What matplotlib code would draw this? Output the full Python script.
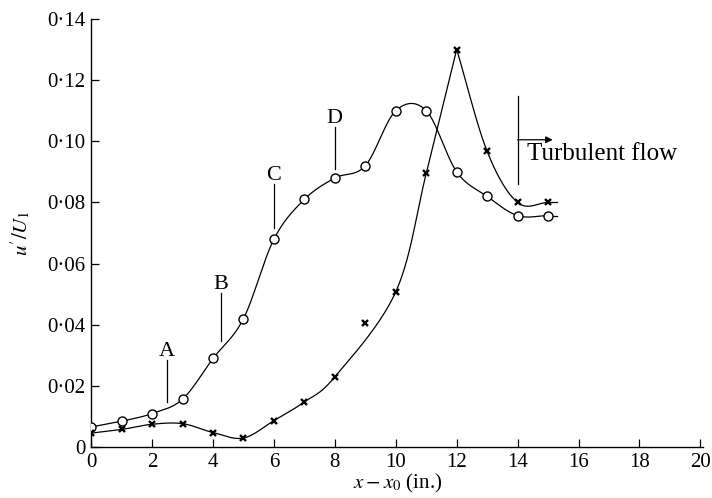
import matplotlib.pyplot as plt
import numpy as np

plt.rcParams['font.family'] = ['Liberation Serif', 'DejaVu Serif']
plt.rcParams['mathtext.fontset'] = 'stix'

## helpers
# catmull-rom curve through the points
def smooth(x, y, n=25):
    pts = np.column_stack([x, y])
    p = np.vstack([2*pts[0] - pts[1], pts, 2*pts[-1] - pts[-2]])
    out = []
    t = np.linspace(0, 1, n)[:, None]
    for i in range(1, len(p) - 2):
        p0, p1, p2, p3 = p[i-1], p[i], p[i+1], p[i+2]
        seg = 0.5*((2*p1) + (-p0 + p2)*t + (2*p0 - 5*p1 + 4*p2 - p3)*t**2
                   + (-p0 + 3*p1 - 3*p2 + p3)*t**3)
        out.append(seg)
    c = np.vstack(out)
    return c[:, 0], c[:, 1]

## data
x = np.arange(0, 16)
circ = np.array([0.0066, 0.0085, 0.011, 0.0157, 0.029, 0.042, 0.068, 0.081,
                 0.088, 0.092, 0.110, 0.110, 0.090, 0.082, 0.0757, 0.0757])
cross = np.array([0.0046, 0.0058, 0.0075, 0.0077, 0.0048, 0.003, 0.0087, 0.0148,
                  0.023, 0.0407, 0.0508, 0.0895, 0.130, 0.0967, 0.080, 0.080])

# labelled stations
stations = ['A', 'B', 'C', 'D']
st_x = [2.5, 4.25, 6.0, 8.0]
st_lo = [0.0148, 0.0347, 0.0718, 0.0908]
st_hi = [0.0285, 0.0505, 0.0859, 0.1046]

xticks = np.arange(0, 21, 2)
yticks = np.arange(0, 0.141, 0.02)
ylabels = ['0', '0·02', '0·04', '0·06', '0·08', '0·10', '0·12', '0·14']

## plot!
fig = plt.figure(figsize=(7.12, 4.98), dpi=100)
ax = fig.add_axes([0.128, 0.102, 0.86, 0.86])

cx, cy = smooth(x, circ)
ax.plot(cx, cy, color='black', lw=0.9)
ax.plot([x[-1], x[-1] + 0.3], [circ[-1]]*2, color='black', lw=0.9)
ax.plot(x, circ, 'o', mfc='white', mec='black', mew=1.0, ms=6.5, zorder=3)

# cusp at the peak -> two pieces; the curve is faired past the x=9 reading
k = 12
keep = [i for i in range(k + 1) if i != 9]
sx1, sy1 = smooth(x[keep], cross[keep])
sx2, sy2 = smooth(x[k:], cross[k:])
ax.plot(sx1, sy1, color='black', lw=0.9)
ax.plot(sx2, sy2, color='black', lw=0.9)
ax.plot([x[-1], x[-1] + 0.3], [cross[-1]]*2, color='black', lw=0.9)
ax.plot(x, cross, 'x', color='black', mew=1.7, ms=4.5, zorder=3)

for s, sx, lo, hi in zip(stations, st_x, st_lo, st_hi):
    ax.plot([sx, sx], [lo, hi], color='black', lw=0.9)
    ax.text(sx, hi + 0.0013, s, ha='center', va='baseline', fontsize=16)

# turbulent flow marker
ax.plot([14, 14], [0.0859, 0.1148], color='black', lw=0.9)
ax.annotate('', xy=(15.15, 0.1005), xytext=(14, 0.1005),
            arrowprops=dict(arrowstyle='-|>', color='black', lw=0.9,
                            mutation_scale=10, shrinkA=0, shrinkB=0))
ax.text(14.3, 0.0957, 'Turbulent flow', ha='left', va='center', fontsize=18)

## pretty~
ax.set_xlim(0, 20.1)
ax.set_ylim(0, 0.14)
ax.set_xticks(xticks)
ax.set_yticks(yticks)
ax.set_yticklabels(ylabels)
ax.tick_params(direction='in', length=6, width=0.9, labelsize=15, pad=4)
for side in ['top', 'right']:
    ax.spines[side].set_visible(False)
for side in ['left', 'bottom']:
    ax.spines[side].set_linewidth(1.0)
ax.set_xlabel(r'$x-x_0$ (in.)', fontsize=15, labelpad=0)
ax.set_ylabel(r"$u'/U_1$", fontsize=15, labelpad=10)

fig.savefig('out.png', dpi=100)
